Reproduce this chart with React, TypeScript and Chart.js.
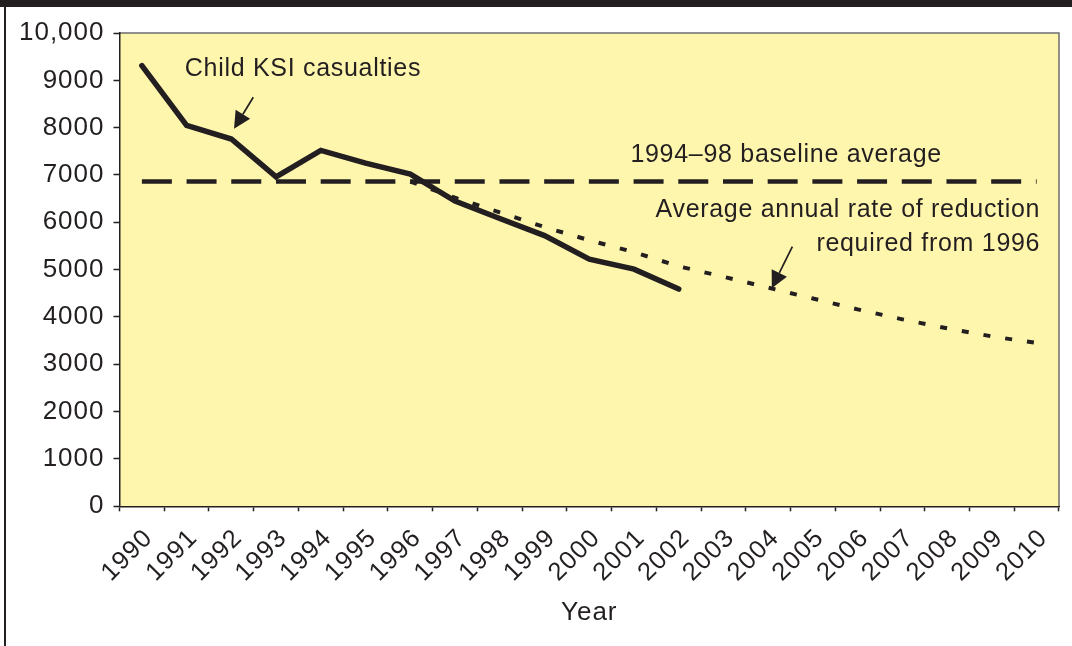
import React, { useEffect, useRef } from 'react';
import { Chart, registerables } from 'chart.js';

Chart.register(...registerables);

// ---- data ----
const years = ['1990', '1991', '1992', '1993', '1994', '1995', '1996', '1997', '1998', '1999', '2000', '2001', '2002', '2003', '2004', '2005', '2006', '2007', '2008', '2009', '2010'];
const childKSI = [9310, 8050, 7760, 6960, 7520, 7250, 7020, 6450, 6080, 5720, 5220, 5010, 4590, null, null, null, null, null, null, null, null];
const baselineAverage = 6860;
const requiredReduction = [null, null, null, null, null, null, 6860, 6520, 6210, 5900, 5620, 5370, 5070, 4850, 4620, 4390, 4160, 3950, 3760, 3590, 3450];
const yMin = 0;
const yMax = 10000;
const yStep = 1000;
const xTitle = 'Year';

// annotation anchors in (category index, value) space
const labels = [
  { text: 'Child KSI casualties', x: 0.96, y: 9082, align: 'left' },
  { text: '1994\u201398 baseline average', x: 10.92, y: 7264, align: 'left' },
  { text: 'Average annual rate of reduction', x: 20.08, y: 6116, align: 'right' },
  { text: 'required from 1996', x: 20.08, y: 5404, align: 'right' },
];
const arrows = [
  { x1: 2.49, y1: 8643, x2: 2.06, y2: 7977 },
  { x1: 14.54, y1: 5488, x2: 14.08, y2: 4609 },
];

const INK = '#231f20';
const FONT = '"Liberation Sans", Arial, sans-serif';
const LS = '1px';

const decorPlugin = {
  id: 'decor',
  beforeLayout(chart: any) {
    chart.ctx.letterSpacing = LS;
  },
  beforeDraw(chart: any) {
    const { ctx, chartArea: a } = chart;
    ctx.letterSpacing = LS;
    ctx.save();
    ctx.fillStyle = '#fff6ae';
    ctx.fillRect(a.left, a.top, a.right - a.left, a.bottom - a.top);
    ctx.strokeStyle = '#6d6e71';
    ctx.lineWidth = 1.5;
    ctx.beginPath();
    ctx.moveTo(a.left, a.top);
    ctx.lineTo(a.right, a.top);
    ctx.lineTo(a.right, a.bottom);
    ctx.stroke();
    ctx.restore();
  },
  afterDatasetsDraw(chart: any) {
    const { ctx } = chart;
    const xs = chart.scales.x;
    const ys = chart.scales.y;
    ctx.save();
    ctx.fillStyle = INK;
    ctx.strokeStyle = INK;
    ctx.font = `25px ${FONT}`;
    ctx.letterSpacing = '0.7px';
    ctx.textBaseline = 'alphabetic';
    for (const l of labels) {
      ctx.textAlign = l.align;
      ctx.fillText(l.text, xs.getPixelForValue(l.x), ys.getPixelForValue(l.y));
    }
    for (const ar of arrows) {
      const x1 = xs.getPixelForValue(ar.x1);
      const y1 = ys.getPixelForValue(ar.y1);
      const x2 = xs.getPixelForValue(ar.x2);
      const y2 = ys.getPixelForValue(ar.y2);
      const ang = Math.atan2(y2 - y1, x2 - x1);
      const hl = 17;
      const hw = 8.5;
      const bx = x2 - hl * Math.cos(ang);
      const by = y2 - hl * Math.sin(ang);
      ctx.lineWidth = 1.7;
      ctx.beginPath();
      ctx.moveTo(x1, y1);
      ctx.lineTo(bx, by);
      ctx.stroke();
      ctx.beginPath();
      ctx.moveTo(x2, y2);
      ctx.lineTo(bx + hw * Math.sin(ang), by - hw * Math.cos(ang));
      ctx.lineTo(bx - hw * Math.sin(ang), by + hw * Math.cos(ang));
      ctx.closePath();
      ctx.fill();
    }
    ctx.restore();
  },
};

export default function App() {
  const ref = useRef<HTMLCanvasElement | null>(null);

  useEffect(() => {
    if (!ref.current) return;
    const chart = new Chart(ref.current, {
      type: 'line',
      data: {
        labels: years,
        datasets: [
          {
            label: 'Child KSI casualties',
            data: childKSI,
            borderColor: INK,
            borderWidth: 5.5,
            pointRadius: 0,
            tension: 0,
            borderCapStyle: 'round',
            borderJoinStyle: 'miter',
            spanGaps: false,
            order: 0,
          },
          {
            label: 'Required reduction',
            data: requiredReduction,
            borderColor: INK,
            borderWidth: 4,
            borderDash: [7, 15],
            pointRadius: 0,
            tension: 0,
            order: 1,
          },
          {
            label: '1994-98 baseline average',
            data: years.map(() => baselineAverage),
            borderColor: INK,
            borderWidth: 4.5,
            borderDash: [30, 14.7],
            pointRadius: 0,
            tension: 0,
            order: 2,
          },
        ],
      },
      options: {
        animation: false,
        responsive: false,
        devicePixelRatio: 1,
        layout: { padding: { top: 33, right: 13, left: 0, bottom: 0 } },
        plugins: { legend: { display: false }, tooltip: { enabled: false } },
        scales: {
          x: {
            type: 'category',
            offset: true,
            grid: { offset: true, drawOnChartArea: false, drawTicks: true, tickLength: 5, tickColor: INK, tickWidth: 1.5 },
            border: { display: true, color: INK, width: 1.5 },
            ticks: { color: INK, font: { family: FONT, size: 25.5 }, minRotation: 45, maxRotation: 45, autoSkip: false, padding: 12, labelOffset: 7 },
            title: { display: true, text: xTitle, color: INK, font: { family: FONT, size: 26 }, padding: { top: 0, bottom: 18 } },
            afterFit(scale: any) { scale.height = 139.7; },
          },
          y: {
            min: yMin,
            max: yMax,
            grid: { drawOnChartArea: false, drawTicks: true, tickLength: 6, tickColor: INK, tickWidth: 1.5 },
            border: { display: true, color: INK, width: 1.5 },
            ticks: {
              stepSize: yStep,
              color: INK,
              font: { family: FONT, size: 26 },
              padding: 9,
              callback: (v: any) => (v === 10000 ? '10,000' : String(v)),
            },
            afterFit(scale: any) { scale.width = 119.5; },
          },
        },
      },
      plugins: [decorPlugin],
    } as any);
    return () => chart.destroy();
  }, []);

  return (
    <div style={{ position: 'absolute', left: 0, top: 0, width: 1072, height: 646, background: '#fff', overflow: 'hidden' }}>
      <canvas ref={ref} width={1072} height={646} style={{ position: 'absolute', left: 0, top: 0, width: 1072, height: 646 }} />
      <div style={{ position: 'absolute', left: 0, top: 0, width: 1072, height: 7, background: INK }} />
      <div style={{ position: 'absolute', left: 3.5, top: 0, width: 2, height: 646, background: INK }} />
    </div>
  );
}
